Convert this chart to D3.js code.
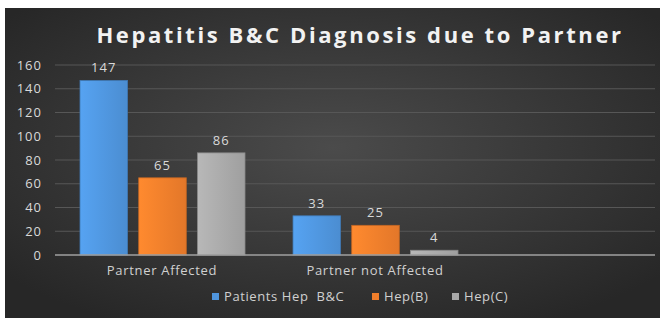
<!DOCTYPE html>
<html>
<head>
<meta charset="utf-8">
<script src="https://cdn.jsdelivr.net/npm/d3@7"></script>
<style>
  html, body { margin: 0; padding: 0; background: #fff; }
  svg { display: block; font-family: "Open Sans", sans-serif; }
</style>
</head>
<body>
<div id="chart"></div>
<script>
const categories = ["Partner Affected", "Partner not Affected"];
const series = ["Patients Hep  B&C", "Hep(B)", "Hep(C)"];
const values = [
    [147, 65, 86],
    [33, 25, 4]
];
const yTicks = [0, 20, 40, 60, 80, 100, 120, 140, 160];
const colors = ["#4f95dd", "#f07e2b", "#a8a8a8"];

const width = 662, height = 320;
const svg = d3.select("#chart").append("svg")
    .attr("width", width)
    .attr("height", height);

// background with a soft radial light in the middle
const defs = svg.append("defs");
const bg = defs.append("radialGradient").attr("id", "bg")
    .attr("cx", "50%").attr("cy", "45%").attr("r", "65%");
bg.append("stop").attr("offset", "0%").attr("stop-color", "#4b4b4b");
bg.append("stop").attr("offset", "100%").attr("stop-color", "#272727");

colors.forEach((c, i) => {
    const g = defs.append("linearGradient").attr("id", "bar" + i)
        .attr("x1", "0%").attr("x2", "100%");
    g.append("stop").attr("offset", "0%").attr("stop-color", d3.color(c).brighter(0.25));
    g.append("stop").attr("offset", "100%").attr("stop-color", d3.color(c).darker(0.15));
});

svg.append("rect")
    .attr("x", 5).attr("y", 8)
    .attr("width", 655).attr("height", 310)
    .attr("fill", "url(#bg)");

const plotLeft = 55, plotRight = 655;
const y = d3.scaleLinear().domain([0, 160]).range([255, 65]);

const x0 = d3.scaleBand().domain(categories).range([55, 481]);
const x1 = d3.scaleBand().domain(series).range([25, 190]).paddingInner(0.19);

// grid lines
svg.append("g").selectAll("line")
    .data(yTicks.filter(d => d > 0))
    .enter().append("line")
    .attr("x1", plotLeft).attr("x2", plotRight)
    .attr("y1", d => y(d)).attr("y2", d => y(d))
    .attr("stroke", "#575757").attr("stroke-width", 1);

// y axis labels
const yAxis = svg.append("g")
    .attr("transform", "translate(" + 42 + ",0)")
    .call(d3.axisLeft(y).tickValues(yTicks).tickSize(0).tickPadding(0));
yAxis.select(".domain").remove();
yAxis.selectAll("text")
    .attr("fill", "#d9d9d9")
    .style("font-size", "13px")
    .style("letter-spacing", "1px")
    .style("font-family", "Open Sans, sans-serif");

// bars
const groups = svg.append("g").selectAll("g")
    .data(categories)
    .enter().append("g")
    .attr("transform", d => "translate(" + x0(d) + ",0)");

groups.selectAll("rect")
    .data((d, i) => values[i].map((v, j) => ({ s: series[j], v: v, j: j })))
    .enter().append("rect")
    .attr("x", d => x1(d.s))
    .attr("width", x1.bandwidth())
    .attr("y", d => y(d.v))
    .attr("height", d => y(0) - y(d.v))
    .attr("fill", d => "url(#bar" + d.j + ")")
    .attr("stroke", d => d3.color(colors[d.j]).darker(0.6))
    .attr("stroke-width", 0.8);

groups.selectAll("text")
    .data((d, i) => values[i].map((v, j) => ({ s: series[j], v: v })))
    .enter().append("text")
    .attr("x", d => x1(d.s) + x1.bandwidth() / 2)
    .attr("y", d => y(d.v) - 8)
    .attr("text-anchor", "middle")
    .attr("fill", "#d9d9d9")
    .style("font-size", "13px")
    .style("letter-spacing", "1px")
    .text(d => d.v);

// baseline
svg.append("line")
    .attr("x1", plotLeft).attr("x2", plotRight)
    .attr("y1", y(0)).attr("y2", y(0))
    .attr("stroke", "#a0a0a0").attr("stroke-width", 1.5);

// category labels
svg.append("g").selectAll("text")
    .data(categories)
    .enter().append("text")
    .attr("x", d => x0(d) + 107)
    .attr("y", 275)
    .attr("text-anchor", "middle")
    .attr("fill", "#d0d0d0")
    .style("font-size", "13px")
    .style("letter-spacing", "0.7px")
    .text(d => d);

// title
svg.append("text")
    .attr("x", 360).attr("y", 43)
    .attr("text-anchor", "middle")
    .attr("fill", "#f2f2f2")
    .style("font-size", "22px")
    .style("font-weight", "bold")
    .style("letter-spacing", "2.6px")
    .text("Hepatitis B&C Diagnosis due to Partner");

// legend
const legendX = [212, 372, 452];
const legend = svg.append("g").selectAll("g")
    .data(series)
    .enter().append("g")
    .attr("transform", (d, i) => "translate(" + legendX[i] + ",298)");
legend.append("rect")
    .attr("x", 0).attr("y", -5)
    .attr("width", 7).attr("height", 7)
    .attr("fill", (d, i) => colors[i]);
legend.append("text")
    .attr("x", 12).attr("y", 3)
    .attr("fill", "#d0d0d0")
    .style("font-size", "13px")
    .style("letter-spacing", "0.6px")
    .style("white-space", "pre")
    .attr("xml:space", "preserve")
    .text(d => d);
</script>
</body>
</html>
